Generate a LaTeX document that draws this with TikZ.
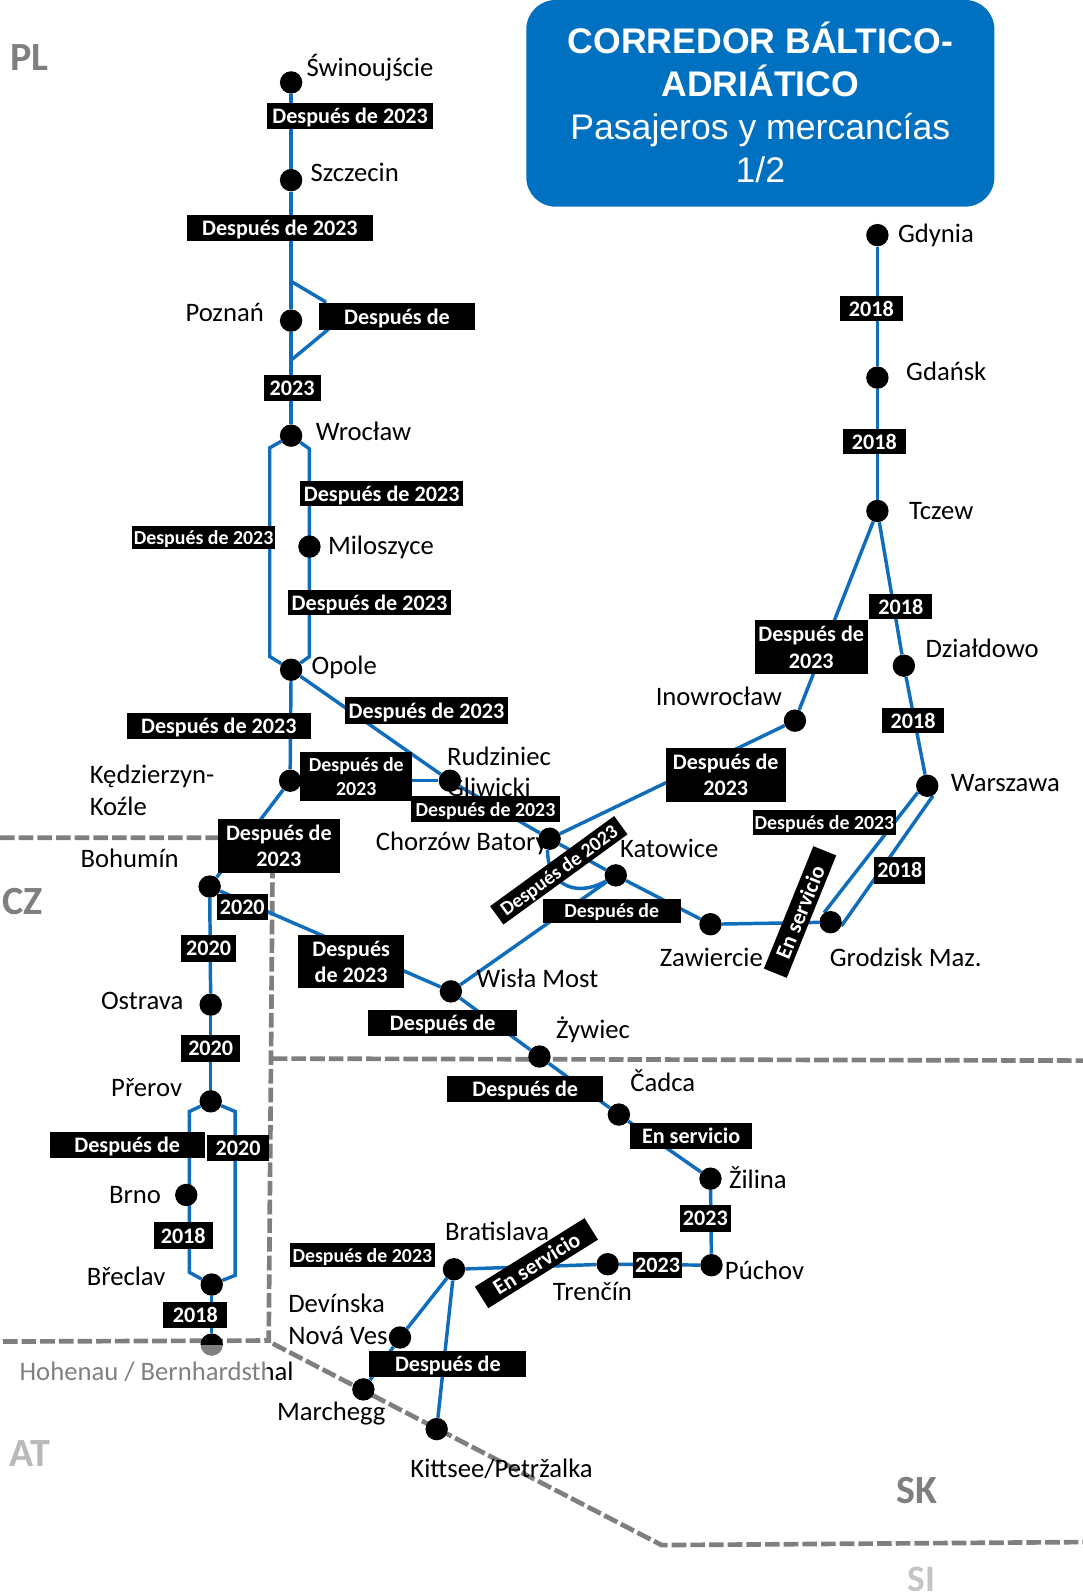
\documentclass[tikz,border=0pt]{standalone}
\usepackage{fontspec}
\setmainfont{Carlito}
\newfontfamily\titlefont{Liberation Sans}
\usetikzlibrary{backgrounds}
\definecolor{railblue}{HTML}{0F6DBB}
\definecolor{boxblue}{HTML}{0070C0}
\definecolor{bordergray}{HTML}{7F7F7F}
\begin{document}
\begin{tikzpicture}[x=0.7633pt,y=-0.7633pt,
    dot/.style={circle,fill=black,inner sep=0pt,minimum size=16.8pt},
    lbl/.style={anchor=base west,inner sep=0pt,font=\fontsize{20}{22}\selectfont},
    tag/.style={fill=black,text=white,inner sep=0pt,align=center,text depth=0pt,font=\fontsize{16.6}{20}\selectfont\bfseries},
    smalltag/.style={tag,font=\fontsize{14.9}{17.5}\selectfont\bfseries},
    rail/.style={railblue,line width=2.6pt},
    frontier/.style={bordergray,line width=3.5pt,dash pattern=on 11pt off 3pt},
    country/.style={bordergray,inner sep=0pt,font=\fontsize{30}{32}\selectfont\bfseries}]
  \useasboundingbox (0,0) rectangle (1064,1568);
  % title
  \node[fill=boxblue,text=white,rounded corners=22pt,inner sep=0pt,align=center,
    minimum width=351pt,minimum height=155pt,font=\titlefont\fontsize{26.7}{32.2}\selectfont] (title) at (747,101.5) {};
  \node[text=white,inner sep=0pt,align=center,font=\titlefont\fontsize{26.7}{32.2}\selectfont] (titletext) at (747,100.5)
    {\textbf{CORREDOR BÁLTICO-}\\\textbf{ADRIÁTICO}\\Pasajeros y mercancías\\1/2};
  % countries
  \node[country] (pl) at (29,57) {PL};
  \node[country] (cz) at (22,886) {CZ};
  \node[country,text=bordergray!55] (at) at (29,1428) {AT};
  \node[country] (sk) at (901,1464) {SK};
  \node[country,text=bordergray!45,font=\fontsize{28}{30}\selectfont\bfseries] (si) at (905,1552) {SI};
  % station names
  \foreach \n/\x/\y/\lbl in {
    lswin/301/75/Świnoujście, lszcz/305/178/Szczecin, lpozn/182/316/Poznań,
    lwroc/310/433/Wrocław, lmilo/322/545/Miloszyce, lopol/306/663/Opole,
    lkedz/88/770/Kędzierzyn-, lkozl/88/801/Koźle, lrudz/439/752/Rudziniec,
    lgliw/439/783/Gliwicki, lchor/369/836/Chorzów Batory, lkato/609/842/Katowice,
    linow/644/693/Inowrocław, lzawi/648/950/Zawiercie, lgrod/815/950/Grodzisk Maz.,
    lwisl/468/970/Wisła Most, lzywi/546/1020/Żywiec, lcadc/619/1072/Čadca,
    lzili/716/1168/Žilina, lpuch/712/1257/Púchov, ltren/543/1278/Trenčín,
    lbrat/437/1219/Bratislava, ldevi/283/1289/Devínska, lnova/283/1321/Nová Ves,
    lmarc/272/1396/Marchegg, lkitt/403/1452/{Kittsee/Petržalka},
    lhohe/19/1356/{Hohenau / Bernhardsthal}, lbohu/79/852/Bohumín, lostr/99/992/Ostrava,
    lprer/109/1077/Přerov, lbrno/107/1182/Brno, lbrec/85/1263/Břeclav,
    lgdyn/882/238/Gdynia, lgdan/890/374/Gdańsk, ltcze/893/510/Tczew,
    ldzia/909/646/Działdowo, lwars/934/778/Warszawa}
    \node[lbl] (\n) at (\x,\y) {\lbl};
  % stations
  \foreach \n/\x/\y in {
    swin/286/81, szcz/286/177, pozn/286/315, wroc/286/428, milo/304/537, opol/286/658,
    kedz/285/767, rudz/442/767, chor/540/824, kato/605/860, zawi/698/908, grod/816/906,
    wars/911/772, inow/781/708, tcze/862/502, dzia/888/654, gdan/862/371, gdyn/862/231,
    bohu/206/871, ostr/207/987, prer/207/1082, brno/183/1174, brec/208/1262, hohe/208/1321,
    wisl/443/974, zywi/530/1038, cadc/608/1095, zili/698/1158, puch/699/1243, tren/597/1242,
    brat/446/1247, devi/393/1314, marc/357/1365, kitt/429/1404}
    \node[dot] (\n) at (\x,\y) {};
  % bends of the double tracks
  \foreach \n/\x/\y in {
    pz1/287/277, pz2/319/296, pz3/322/324, pz4/287/353,
    wr1/265/440, wr2/265/645, wr3/304/441, wr4/304/645,
    pr1/186/1092, pr2/186/1250, pr3/231/1092, pr4/231/1253}
    \coordinate (\n) at (\x,\y);
  % frontiers and lines go behind stations and tags
  \begin{scope}[on background layer]
    \draw[frontier] (0,823)--(268,823)--(264,1317)--(0,1318);
    \draw[frontier] (268,1040)--(1064,1042);
    \draw[frontier] (268,1320)--(650,1518)--(1064,1515);
    \foreach \a/\b in {swin/szcz, szcz/pozn, pozn/wroc, opol/kedz, kedz/bohu, opol/rudz,
      kedz/rudz, rudz/chor, chor/kato, kato/zawi, zawi/grod, chor/inow, inow/tcze,
      gdyn/gdan, gdan/tcze, tcze/dzia, dzia/wars, bohu/ostr, ostr/prer, bohu/wisl,
      wisl/kato, wisl/zywi, zywi/cadc, cadc/zili, zili/puch, puch/tren, tren/brat,
      brat/devi, devi/marc, brat/kitt, brec/hohe}
      \draw[rail] (\a)--(\b);
    \draw[rail] (pz1)--(pz2)--(pz3)--(pz4);
    \draw[rail] (wroc)--(wr1)--(wr2)--(opol);
    \draw[rail] (wroc)--(wr3)--(wr4)--(opol);
    \draw[rail] (prer)--(pr1)--(pr2)--(brec);
    \draw[rail] (prer)--(pr3)--(pr4)--(brec);
    \draw[rail] (wars.215)--(grod.125);
    \draw[rail] (wars.-60)--(grod.-20);
    \draw[rail] (chor.-100) .. controls (537,865) and (562,884) .. (kato.-150);
  \end{scope}
  % dates, large
  \foreach \n/\x/\y/\w/\h/\lbl in {
    ta/344/114/163/25/Después de 2023, tb/275/224/182/25/Después de 2023,
    tc/390/311/153/26/Después de, td/287/381/56/26/2023,
    te/375/485/160/25/Después de 2023, tf/363/592/160/25/Después de 2023,
    tg/215/713/181/26/Después de 2023, th/419/698/160/26/Después de 2023,
    ti/274/831/120/53/{Después de\\2023}, tj/238/891/50/26/2020,
    tk/205/932/54/26/2020, tl/345/945/104/52/{Después\\de 2023},
    tm/207/1030/58/26/2020, tn/125/1125/152/26/Después de,
    to/234/1128/61/26/2020, tp/180/1214/58/26/2018, tq/192/1292/63/25/2018,
    tr/440/1340/154/26/Después de, ts/646/1243/49/26/2023, tt/693/1197/50/26/2023,
    tu/679/1116/120/26/En servicio, tv/516/1070/153/26/Después de,
    tw/435/1005/146/26/Después de, tx/856/303/62/25/2018, ty/859/434/62/25/2018,
    tz/797/636/111/53/{Después de\\2023}, uc/885/596/62/25/2018, ud/897/708/60/25/2018,
    ue/713/761/118/53/{Después de\\2023}, uf/884/855/50/26/2018}
    \node[tag,minimum width=\w*0.7633pt,minimum height=\h*0.7633pt] (\n) at (\x,\y) {\lbl};
  % dates, small
  \foreach \n/\x/\y/\w/\h/\lbl in {
    va/200/528/140/23/Después de 2023, vb/350/763/110/48/{Después de\\2023},
    vc/477/795/147/25/Después de 2023, vd/356/1233/142/24/Después de 2023,
    ve/601/895/136/24/Después de, vf/810/808/141/24/Después de 2023}
    \node[smalltag,minimum width=\w*0.7633pt,minimum height=\h*0.7633pt] (\n) at (\x,\y) {\lbl};
  % dates set along the line
  \node[smalltag,rotate=36,minimum width=115pt,minimum height=17pt] (wa) at (549,855) {Después de 2023};
  \node[tag,rotate=32,minimum width=97pt,minimum height=19pt] (wb) at (527,1241) {En servicio};
  \node[tag,rotate=68,minimum width=99pt,minimum height=18.5pt] (wc) at (786,896) {En servicio};
  % faded part below the frontier
  \fill[white,opacity=.5] (0,1321) rectangle (262,1372);
\end{tikzpicture}
\end{document}
